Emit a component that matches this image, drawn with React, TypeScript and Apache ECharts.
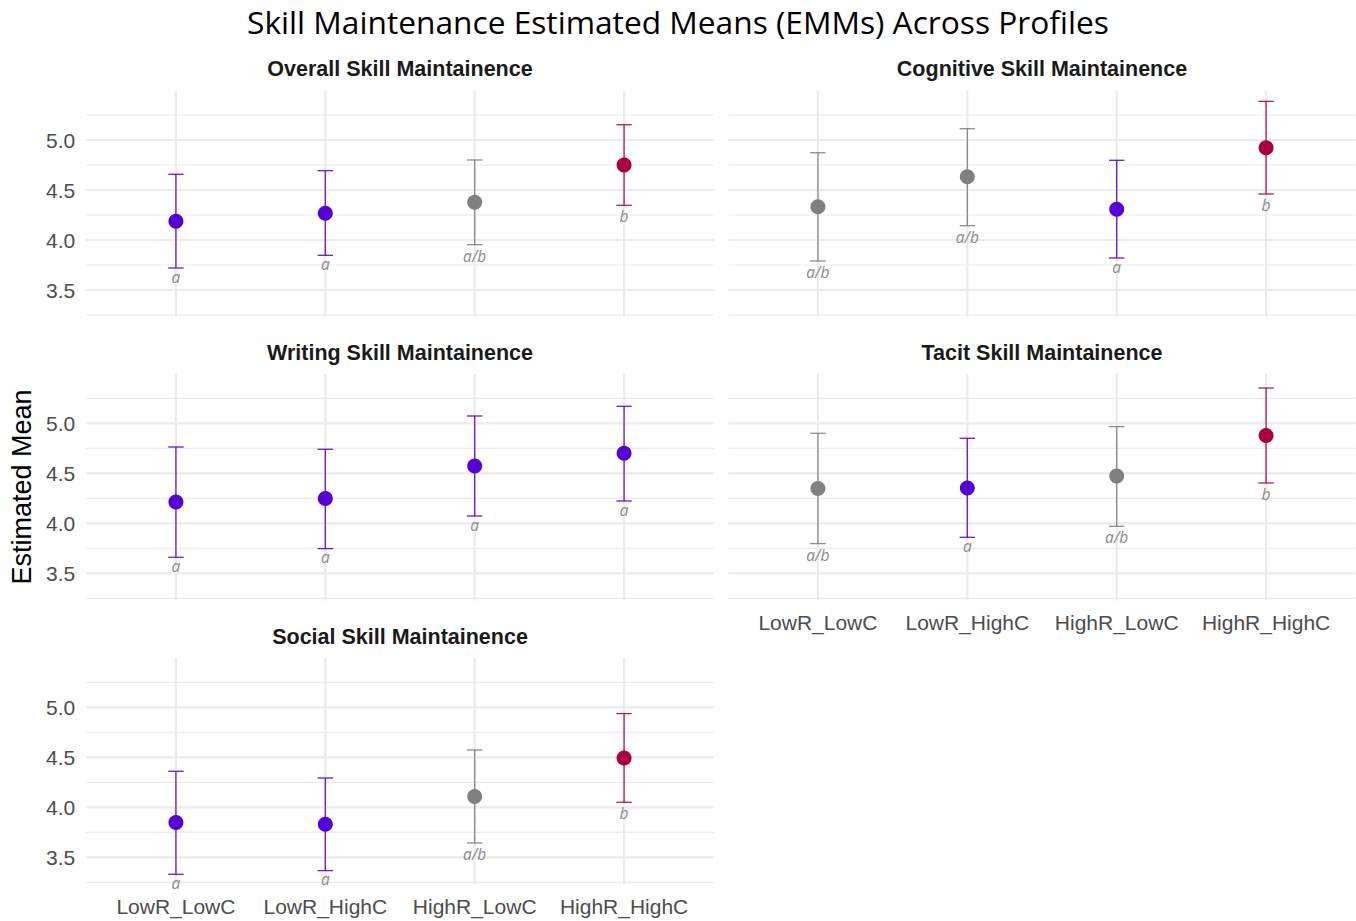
import React, { useEffect, useRef } from "react";
import * as echarts from "echarts";

const categories = ["LowR_LowC", "LowR_HighC", "HighR_LowC", "HighR_HighC"];
const yTickLabels = [3.5, 4.0, 4.5, 5.0];
const yGridMinor = [3.25, 3.75, 4.25, 4.75, 5.25];

const panelTitles = [
  "Overall Skill Maintainence",
  "Cognitive Skill Maintainence",
  "Writing Skill Maintainence",
  "Tacit Skill Maintainence",
  "Social Skill Maintainence",
];

const overallMean = [4.187, 4.267, 4.377, 4.75];
const overallLower = [3.72, 3.847, 3.953, 4.347];
const overallUpper = [4.657, 4.693, 4.8, 5.153];
const overallLetters = ["a", "a", "a/b", "b"];

const cognitiveMean = [4.333, 4.633, 4.307, 4.923];
const cognitiveLower = [3.79, 4.143, 3.82, 4.46];
const cognitiveUpper = [4.873, 5.113, 4.797, 5.387];
const cognitiveLetters = ["a/b", "a/b", "a", "b"];

const writingMean = [4.213, 4.247, 4.573, 4.7];
const writingLower = [3.66, 3.747, 4.073, 4.223];
const writingUpper = [4.763, 4.74, 5.073, 5.17];
const writingLetters = ["a", "a", "a", "a"];

const tacitMean = [4.347, 4.353, 4.473, 4.877];
const tacitLower = [3.797, 3.86, 3.97, 4.403];
const tacitUpper = [4.9, 4.85, 4.967, 5.353];
const tacitLetters = ["a/b", "a", "a/b", "b"];

const socialMean = [3.847, 3.83, 4.107, 4.493];
const socialLower = [3.33, 3.367, 3.643, 4.05];
const socialUpper = [4.36, 4.293, 4.573, 4.937];
const socialLetters = ["a", "a", "a/b", "b"];

const letterColors: Record<string, string> = {
  a: "#5500D6",
  b: "#AB003F",
  "a/b": "#808080",
};

const panels = [
  { mean: overallMean, lower: overallLower, upper: overallUpper, letters: overallLetters },
  { mean: cognitiveMean, lower: cognitiveLower, upper: cognitiveUpper, letters: cognitiveLetters },
  { mean: writingMean, lower: writingLower, upper: writingUpper, letters: writingLetters },
  { mean: tacitMean, lower: tacitLower, upper: tacitUpper, letters: tacitLetters },
  { mean: socialMean, lower: socialLower, upper: socialUpper, letters: socialLetters },
];

const Y_MIN = 3.227;
const Y_MAX = 5.493;

const gridBoxes = [
  { left: 86.3, top: 90.7 },
  { left: 728.3, top: 90.7 },
  { left: 86.3, top: 374 },
  { left: 728.3, top: 374 },
  { left: 86.3, top: 658 },
];
const GRID_W = 627.4;
const GRID_H = 226.6;
const showXLabels = [false, false, false, true, true];
const showYLabels = [true, false, true, false, true];

const AXIS_FONT = '"Liberation Sans", Arial, sans-serif';

export default function App() {
  const ref = useRef<HTMLDivElement>(null);

  useEffect(() => {
    if (!ref.current) return;
    const chart = echarts.init(ref.current, undefined, { renderer: "svg" });

    const grids = gridBoxes.map((g) => ({
      left: g.left,
      top: g.top,
      width: GRID_W,
      height: GRID_H,
      containLabel: false,
    }));

    const xAxes = gridBoxes.map((_, i) => ({
      type: "value",
      gridIndex: i,
      min: 0.4,
      max: 4.6,
      axisLine: { show: false },
      axisTick: { show: false },
      splitLine: { show: false },
      axisLabel: {
        show: showXLabels[i],
        customValues: [1, 2, 3, 4],
        margin: 11,
        fontSize: 21,
        fontFamily: AXIS_FONT,
        color: "#4d4d4d",
        formatter: (v: number) =>
          Math.abs(v - Math.round(v)) < 1e-6 && v >= 1 && v <= 4
            ? categories[Math.round(v) - 1]
            : "",
      },
    }));

    const yAxes = gridBoxes.map((_, i) => ({
      type: "value",
      gridIndex: i,
      min: Y_MIN,
      max: Y_MAX,
      axisLine: { show: false },
      axisTick: { show: false },
      splitLine: { show: false },
      axisLabel: {
        show: showYLabels[i],
        customValues: yTickLabels,
        margin: 11,
        fontSize: 21,
        fontFamily: AXIS_FONT,
        color: "#4d4d4d",
        formatter: (v: number) =>
          yTickLabels.some((t) => Math.abs(t - v) < 1e-6) ? v.toFixed(1) : "",
      },
    }));

    const series: any[] = [];
    panels.forEach((p, i) => {
      const hData = [
        ...yGridMinor.map((v) => [1, v, 0]),
        ...yTickLabels.map((v) => [1, v, 1]),
      ];
      series.push({
        type: "custom",
        xAxisIndex: i,
        yAxisIndex: i,
        z: 0,
        silent: true,
        data: hData,
        renderItem: (params: any, api: any) => {
          const cs = params.coordSys;
          const y = api.coord([1, api.value(1)])[1];
          const major = api.value(2) === 1;
          return {
            type: "line",
            shape: { x1: cs.x, y1: y, x2: cs.x + cs.width, y2: y },
            style: { stroke: "#ebebeb", lineWidth: major ? 2.2 : 1.2 },
          };
        },
      });
      series.push({
        type: "custom",
        xAxisIndex: i,
        yAxisIndex: i,
        z: 0,
        silent: true,
        data: categories.map((_, k) => [k + 1, 4]),
        renderItem: (params: any, api: any) => {
          const cs = params.coordSys;
          const x = api.coord([api.value(0), 4])[0];
          return {
            type: "line",
            shape: { x1: x, y1: cs.y, x2: x, y2: cs.y + cs.height },
            style: { stroke: "#ebebeb", lineWidth: 2.2 },
          };
        },
      });
      series.push({
        type: "custom",
        xAxisIndex: i,
        yAxisIndex: i,
        z: 2,
        silent: true,
        data: p.mean.map((m, k) => [k + 1, m, p.lower[k], p.upper[k]]),
        renderItem: (params: any, api: any) => {
          const k = params.dataIndex;
          const letter = p.letters[k];
          const color = letterColors[letter];
          const lo = api.coord([api.value(0), api.value(2)]);
          const hi = api.coord([api.value(0), api.value(3)]);
          const cap = 7.7;
          const st = { stroke: color, lineWidth: 1.3, opacity: 0.9 };
          const hasB = letter.indexOf("b") >= 0;
          return {
            type: "group",
            children: [
              { type: "line", shape: { x1: lo[0], y1: lo[1], x2: hi[0], y2: hi[1] }, style: st },
              { type: "line", shape: { x1: lo[0] - cap, y1: lo[1], x2: lo[0] + cap, y2: lo[1] }, style: st },
              { type: "line", shape: { x1: hi[0] - cap, y1: hi[1], x2: hi[0] + cap, y2: hi[1] }, style: st },
              {
                type: "text",
                x: lo[0],
                y: lo[1] + (hasB ? 11 : 8.5),
                style: {
                  text: letter,
                  fill: "#8a8a8a",
                  fontSize: 15.5,
                  fontStyle: "italic",
                  fontFamily: '"Open Sans", sans-serif',
                  align: "center",
                  verticalAlign: "middle",
                },
              },
            ],
          };
        },
      });
      series.push({
        type: "scatter",
        xAxisIndex: i,
        yAxisIndex: i,
        z: 3,
        symbol: "circle",
        symbolSize: 15,
        silent: true,
        itemStyle: { opacity: 1 },
        data: p.mean.map((m, k) => ({
          value: [k + 1, m],
          itemStyle: { color: letterColors[p.letters[k]], opacity: 1 },
        })),
      });
    });

    const titleCenters = [
      [400, 69],
      [1042, 69],
      [400, 353],
      [1042, 353],
      [400, 637],
    ];

    const graphic: any[] = [
      {
        type: "text",
        x: 678,
        y: 21,
        style: {
          text: "Skill Maintenance Estimated Means (EMMs) Across Profiles",
          fontSize: 31.7,
          fontFamily: '"Open Sans", sans-serif',
          fill: "#000000",
          align: "center",
          verticalAlign: "middle",
        },
      },
      {
        type: "text",
        x: 22,
        y: 487,
        rotation: Math.PI / 2,
        style: {
          text: "Estimated Mean",
          fontSize: 27,
          fontFamily: AXIS_FONT,
          fill: "#000000",
          align: "center",
          verticalAlign: "middle",
        },
      },
      ...panelTitles.map((t, i) => ({
        type: "text",
        x: titleCenters[i][0],
        y: titleCenters[i][1],
        style: {
          text: t,
          fontSize: 21.5,
          fontWeight: "bold",
          fontFamily: AXIS_FONT,
          fill: "#1a1a1a",
          align: "center",
          verticalAlign: "middle",
        },
      })),
    ];

    chart.setOption({
      animation: false,
      backgroundColor: "#ffffff",
      grid: grids,
      xAxis: xAxes,
      yAxis: yAxes,
      series,
      graphic,
    });

    return () => chart.dispose();
  }, []);

  return (
    <div
      ref={ref}
      style={{ position: "absolute", left: 0, top: 0, width: 1356, height: 921 }}
    />
  );
}
